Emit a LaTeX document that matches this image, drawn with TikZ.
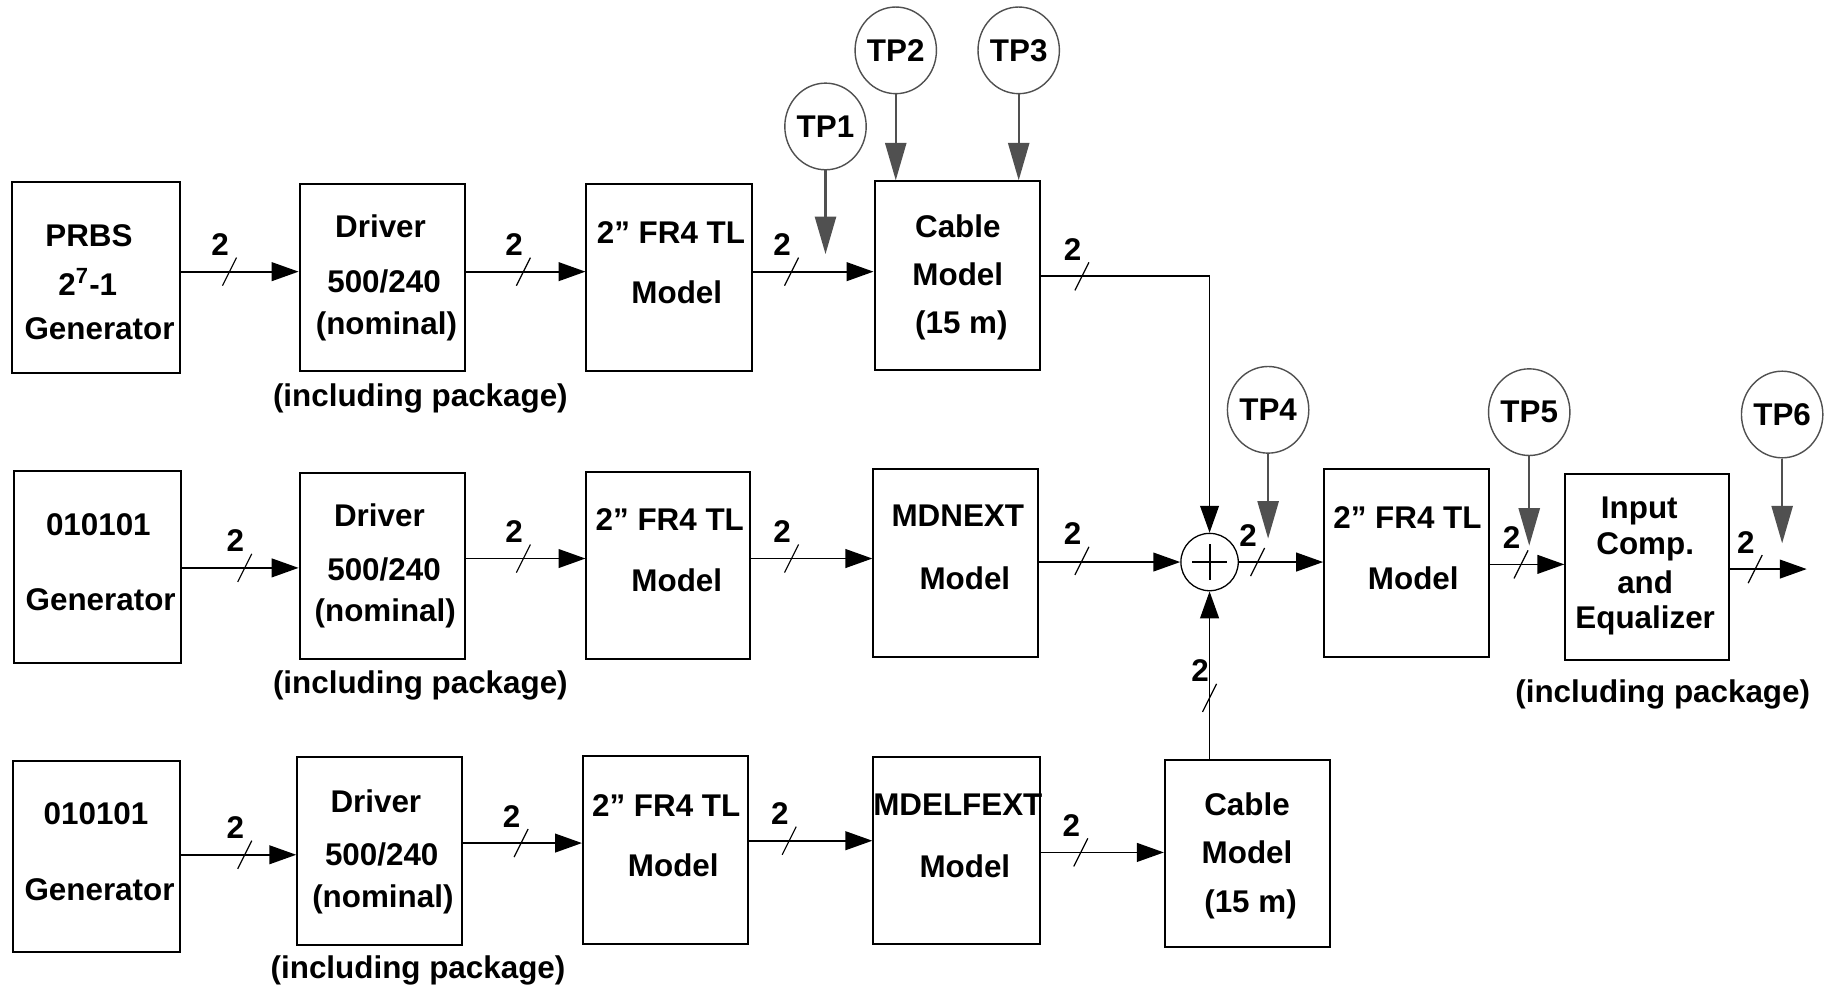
\documentclass[tikz,border=0pt]{standalone}
\usepackage{fontspec}
\setmainfont{Liberation Sans}
\usetikzlibrary{arrows.meta,shapes.geometric}
\definecolor{tpgray}{RGB}{80,80,80}
\newcommand\bx[5]{\node[blk, minimum width={(#4-#2)*0.5pt}, minimum height={(#5-#3)*0.5pt}] (#1) at (#2,#3) {};}
\newcommand\busmark[3]{\draw[slashln] (#1-6,#2+12) -- (#1+6,#2-12); \node[txt] (#3) at (#1-8,#2-23) {2};}
\begin{document}
\begin{tikzpicture}[x=0.5pt,y=-0.5pt,
  font=\fontsize{13.4}{16}\selectfont\bfseries,
  blk/.style={draw, line width=0.85pt, inner sep=0pt, anchor=north west},
  txt/.style={inner sep=0pt},
  arr/.style={line width=0.75pt, -{Triangle[length=11.5pt,width=8pt]}},
  slashln/.style={line width=0.5pt},
  tp/.style={draw=tpgray, line width=0.6pt, ellipse, minimum width=33pt, minimum height=37pt, inner sep=0pt},
  tparr/.style={draw=tpgray, line width=1pt, -{Triangle[length=16pt,width=9pt]}, fill=tpgray},
]
\useasboundingbox (0,0) rectangle (1568,845);

% ---------- row 1 ----------
\bx{g1}{9}{155}{153}{318}
\bx{d1}{255}{156}{396}{316}
\bx{f1}{500}{156}{641}{316}
\bx{c1}{746}{154}{887}{315}
\node[txt] (g1a) at (76,201) {PRBS};
\node[txt] (g1b) at (75,241) {2\textsuperscript{7}-1};
\node[txt] (g1c) at (85,281) {Generator};
\node[txt] (d1a) at (325,193) {Driver};
\node[txt] (d1b) at (328,240) {500/240};
\node[txt] (d1c) at (330,279) {(nominal)};
\node[txt] (p1) at (359,340) {(including package)};
\node[txt] (f1a) at (573,199) {2” FR4 TL};
\node[txt] (f1b) at (578,250) {Model};
\node[txt] (c1a) at (818,193) {Cable};
\node[txt] (c1b) at (818,234) {Model};
\node[txt] (c1c) at (821,278) {(15 m)};

% ---------- row 2 ----------
\bx{g2}{11}{401}{154}{565}
\bx{d2}{255}{403}{396}{562}
\bx{f2}{500}{402}{640}{562}
\bx{m2}{745}{400}{886}{560}
\bx{f4}{1130}{400}{1271}{560}
\bx{eq}{1336}{404}{1476}{563}
\node[circle, draw, line width=0.55pt, minimum size=24.5pt, inner sep=0pt] (sum) at (1033,480) {};
\draw[line width=0.85pt] ([xshift=-7.5pt]sum.center) -- ([xshift=7.5pt]sum.center);
\draw[line width=0.85pt] ([yshift=-7.5pt]sum.center) -- ([yshift=7.5pt]sum.center);
\node[txt] (g2a) at (84,448) {010101};
\node[txt] (g2b) at (86,512) {Generator};
\node[txt] (d2a) at (324,440) {Driver};
\node[txt] (d2b) at (328,486) {500/240};
\node[txt] (d2c) at (329,524) {(nominal)};
\node[txt] (p2) at (359,585) {(including package)};
\node[txt] (f2a) at (572,444) {2” FR4 TL};
\node[txt] (f2b) at (578,496) {Model};
\node[txt] (m2a) at (818,440) {MDNEXT};
\node[txt] (m2b) at (824,494) {Model};
\node[txt] (f4a) at (1202,442) {2” FR4 TL};
\node[txt] (f4b) at (1207,494) {Model};
\node[txt] (eqa) at (1400,436) {Input};
\node[txt] (eqb) at (1405,467) {Comp.};
\node[txt] (eqc) at (1405,497) {and};
\node[txt] (eqd) at (1405,530) {Equalizer};
\node[txt] (p4) at (1420,593) {(including package)};

% ---------- row 3 ----------
\bx{g3}{10}{649}{153}{812}
\bx{d3}{253}{646}{394}{806}
\bx{f3}{497}{645}{638}{805}
\bx{m3}{745}{646}{887}{805}
\bx{c3}{994}{648}{1135}{808}
\node[txt] (g3a) at (82,695) {010101};
\node[txt] (g3b) at (85,760) {Generator};
\node[txt] (d3a) at (321,684) {Driver};
\node[txt] (d3b) at (326,730) {500/240};
\node[txt] (d3c) at (327,768) {(nominal)};
\node[txt] (p3) at (357,829) {(including package)};
\node[txt] (f3a) at (569,688) {2” FR4 TL};
\node[txt] (f3b) at (575,739) {Model};
\node[txt] (m3a) at (818,687) {MDELFEXT};
\node[txt] (m3b) at (824,740) {Model};
\node[txt] (c3a) at (1065,687) {Cable};
\node[txt] (c3b) at (1065,728) {Model};
\node[txt] (c3c) at (1068,772) {(15 m)};

% ---------- row coordinates ----------
\coordinate (ya) at (0,232);
\coordinate (yc1) at (0,236);
\coordinate (yb1) at (0,485);
\coordinate (yb2) at (0,477);
\coordinate (yb6) at (0,482);
\coordinate (yb7) at (0,486);
\coordinate (out) at (1543,486);
\coordinate (yr1) at (0,730);
\coordinate (yr2) at (0,720);
\coordinate (yr3) at (0,718);
\coordinate (yr4) at (0,728);

% ---------- bus connectors ----------
\draw[arr] (g1.east |- ya) -- (d1.west |- ya); \busmark{196}{232}{l1}
\draw[arr] (d1.east |- ya) -- (f1.west |- ya); \busmark{447}{232}{l2}
\draw[arr] (f1.east |- ya) -- (c1.west |- ya); \busmark{676}{232}{l3}
\draw[arr] (c1.east |- yc1) -| (sum.north);    \busmark{924}{236}{l4}

\draw[arr] (g2.east |- yb1) -- (d2.west |- yb1); \busmark{209}{485}{l5}
\draw[arr] (d2.east |- yb2) -- (f2.west |- yb2); \busmark{447}{477}{l6}
\draw[arr] (f2.east |- yb2) -- (m2.west |- yb2); \busmark{676}{477}{l7}
\draw[arr] (m2.east |- sum.west) -- (sum.west);  \busmark{924}{479}{l8}
\draw[arr] (sum.east) -- (f4.west |- sum.east);  \busmark{1074}{480}{l9}
\draw[arr] (f4.east |- yb6) -- (eq.west |- yb6); \busmark{1299}{482}{l10}
\draw[arr] (eq.east |- yb7) -- (out);            \busmark{1499}{486}{l11}

\draw[arr] (g3.east |- yr1) -- (d3.west |- yr1); \busmark{209}{730}{l12}
\draw[arr] (d3.east |- yr2) -- (f3.west |- yr2); \busmark{445}{720}{l13}
\draw[arr] (f3.east |- yr3) -- (m3.west |- yr3); \busmark{674}{718}{l14}
\draw[arr] (m3.east |- yr4) -- (c3.west |- yr4); \busmark{923}{728}{l15}
\draw[arr] (sum.south |- c3.north) -- (sum.south); \busmark{1033}{596}{l16}

% ---------- test points ----------
\node[tp] (tp1) at (705,108) {TP1};
\node[tp] (tp2) at (765,43) {TP2};
\node[tp] (tp3) at (870,43) {TP3};
\node[tp] (tp4) at (1083,350) {TP4};
\node[tp] (tp5) at (1306,352) {TP5};
\node[tp] (tp6) at (1522,354) {TP6};
\coordinate (t1) at (705,217);
\coordinate (t4) at (1083,460);
\coordinate (t5) at (1306,466);
\coordinate (t6) at (1522,464);
\draw[tparr] (tp1.south) -- (t1);
\draw[tparr] (tp2.south) -- (tp2.south |- c1.north);
\draw[tparr] (tp3.south) -- (tp3.south |- c1.north);
\draw[tparr] (tp4.south) -- (t4);
\draw[tparr] (tp5.south) -- (t5);
\draw[tparr] (tp6.south) -- (t6);
\end{tikzpicture}
\end{document}
